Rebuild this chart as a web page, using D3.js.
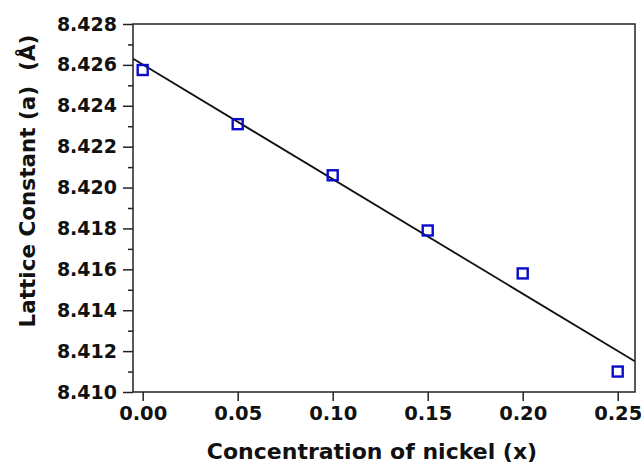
<!DOCTYPE html>
<html><head><meta charset="utf-8">
<script src="https://d3js.org/d3.v7.min.js"></script>
<style>body{margin:0;background:#fff}svg{display:block}text{font-family:"DejaVu Sans",Verdana,sans-serif;font-weight:bold;fill:#111}</style>
</head><body>
<script>
const concentration = [0.00, 0.05, 0.10, 0.15, 0.20, 0.25];
const latticeConstant = [8.42575, 8.4231, 8.4206, 8.4179, 8.4158, 8.4110];
const fitX = [-0.005, 0.259];
const fitY = [8.42630, 8.41150];
const xTicks = [0.00, 0.05, 0.10, 0.15, 0.20, 0.25];
const yTicks = [8.410, 8.412, 8.414, 8.416, 8.418, 8.420, 8.422, 8.424, 8.426, 8.428];
const yMinorTicks = [8.411, 8.413, 8.415, 8.417, 8.419, 8.421, 8.423, 8.425, 8.427];
const xLabel = "Concentration of nickel (x)";
const yLabel = "Lattice Constant (a)  (Å)";

const W = 641, H = 469;
const L = 133, R = 635, T = 24, B = 392;
const svg = d3.select("body").append("svg").attr("width", W).attr("height", H);
const x = d3.scaleLinear().domain([-0.0051, 0.2591]).range([L, R]);
const y = d3.scaleLinear().domain([8.410, 8.428]).range([B, T]);

// frame
svg.append("rect").attr("x", L).attr("y", T).attr("width", R - L).attr("height", B - T)
  .attr("fill", "none").attr("stroke", "#222").attr("stroke-width", 1.5);

const yAx = svg.append("g").attr("transform", `translate(${L},0)`)
  .call(d3.axisLeft(y).tickValues(yTicks).tickFormat(d3.format(".3f")).tickSize(10).tickPadding(6));
const yMin = svg.append("g").attr("transform", `translate(${L},0)`)
  .call(d3.axisLeft(y).tickValues(yMinorTicks).tickFormat("").tickSize(5));
const xAx = svg.append("g").attr("transform", `translate(0,${B})`)
  .call(d3.axisBottom(x).tickValues(xTicks).tickFormat(d3.format(".2f")).tickSize(9).tickPadding(5));
[yAx, yMin, xAx].forEach(g => {
  g.select(".domain").remove();
  g.selectAll("line").attr("stroke", "#222").attr("stroke-width", 1.5);
  g.selectAll("text").attr("font-size", 19).attr("fill", "#111")
    .attr("font-family", '"DejaVu Sans",Verdana,sans-serif').attr("font-weight", "bold");
});
xAx.selectAll("text").attr("font-size", 19.5);

// fit line
svg.append("line")
  .attr("x1", x(fitX[0])).attr("y1", y(fitY[0]))
  .attr("x2", x(fitX[1])).attr("y2", y(fitY[1]))
  .attr("stroke", "#111").attr("stroke-width", 1.8);

// markers
const s = 10;
svg.selectAll("rect.pt").data(concentration).enter().append("rect").attr("class", "pt")
  .attr("x", (d) => x(d) - s / 2)
  .attr("y", (d, i) => y(latticeConstant[i]) - s / 2)
  .attr("width", s).attr("height", s)
  .attr("fill", "none").attr("stroke", "#0b0bcc").attr("stroke-width", 2.4);

svg.append("text").attr("x", 372).attr("y", 459).attr("text-anchor", "middle")
  .attr("font-size", 22).text(xLabel);
svg.append("text").attr("transform", "translate(35,181) rotate(-90)").attr("text-anchor", "middle")
  .style("white-space", "pre").attr("font-size", 21.5).text(yLabel);
</script>
</body></html>
